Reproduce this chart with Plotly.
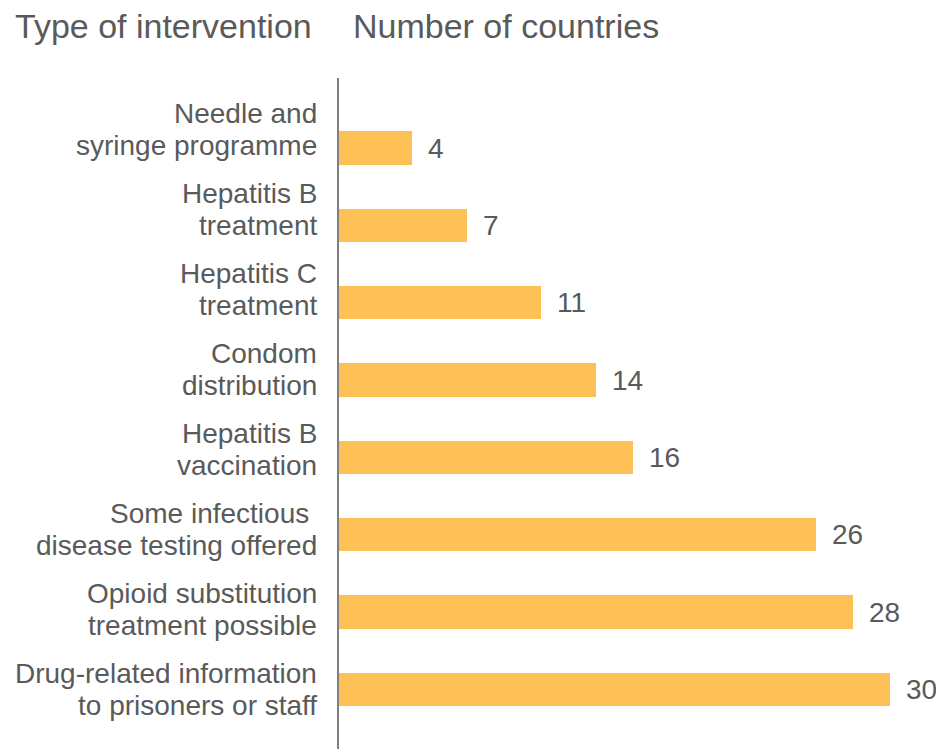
import plotly.graph_objects as go

# Harm-reduction interventions in prisons and the number of countries offering each
interventions = [
    "Needle and<br>syringe programme",
    "Hepatitis B<br>treatment",
    "Hepatitis C<br>treatment",
    "Condom<br>distribution",
    "Hepatitis B<br>vaccination",
    "Some infectious\u00a0<br>disease testing offered",
    "Opioid substitution<br>treatment possible",
    "Drug-related information<br>to prisoners or staff",
]
countries = [4, 7, 11, 14, 16, 26, 28, 30]

header_left = "Type of intervention"
header_right = "Number of countries"

BAR_COLOR = "#FEC157"
TEXT_COLOR = "#5a5a5a"
FONT = "Liberation Sans"

fig = go.Figure()
fig.add_trace(
    go.Bar(
        x=countries,
        y=interventions,
        orientation="h",
        marker=dict(color=BAR_COLOR, line=dict(width=0)),
        width=0.43,
        hoverinfo="skip",
    )
)

annotations = []
# value labels just past the end of each bar
for name, val in zip(interventions, countries):
    annotations.append(
        dict(
            x=val, y=name, xref="x", yref="y",
            text=str(val), showarrow=False,
            xanchor="left", yanchor="middle", xshift=14,
            font=dict(family=FONT, size=28, color=TEXT_COLOR),
        )
    )

# category labels, one line at a time, on their own slightly wider spacing
LINE_GAP = 32
for i, name in enumerate(interventions):
    lines = name.split("<br>")
    n = len(lines)
    for k, line in enumerate(lines):
        annotations.append(
            dict(
                x=0, y=i, xref="paper", yref="y2",
                text=line, showarrow=False,
                xanchor="right", yanchor="middle", xshift=-20,
                yshift=LINE_GAP * ((n - 1) / 2 - k) + 1,
                font=dict(family=FONT, size=28, color=TEXT_COLOR),
            )
        )

# column headers
annotations.append(
    dict(x=0, y=1, xref="paper", yref="paper", text=header_left, showarrow=False,
         xanchor="left", yanchor="middle", xshift=-326, yshift=52,
         font=dict(family=FONT, size=34, color=TEXT_COLOR))
)
annotations.append(
    dict(x=0, y=1, xref="paper", yref="paper", text=header_right, showarrow=False,
         xanchor="left", yanchor="middle", xshift=12, yshift=52,
         font=dict(family=FONT, size=34, color=TEXT_COLOR))
)

fig.update_layout(
    width=936,
    height=749,
    margin=dict(l=339, r=0, t=78, b=0),
    paper_bgcolor="white",
    plot_bgcolor="white",
    showlegend=False,
    bargap=0,
    annotations=annotations,
    xaxis=dict(
        range=[0, 32.53], showgrid=False, zeroline=False, showline=False,
        showticklabels=False, ticks="", fixedrange=True,
    ),
    yaxis=dict(
        type="category", range=[7.77, -0.905], showgrid=False, zeroline=False,
        showline=True, linecolor="#7f7f7f", linewidth=1.5,
        showticklabels=False, ticks="", fixedrange=True,
    ),
    yaxis2=dict(
        overlaying="y", range=[7.7375, -0.65], showgrid=False, zeroline=False,
        showline=False, showticklabels=False, ticks="", fixedrange=True,
    ),
)

fig.write_html("out.html")
